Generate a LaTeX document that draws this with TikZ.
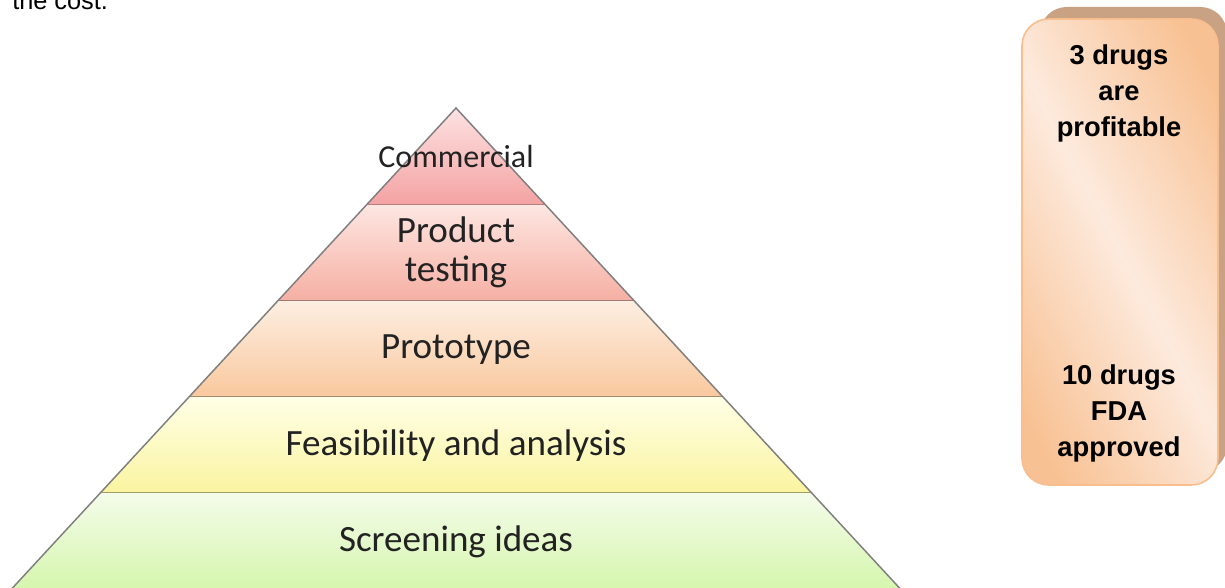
\documentclass[tikz,border=0pt]{standalone}
\usepackage{fontspec}
\setmainfont{Carlito}
\newfontfamily\arialfont{Liberation Sans}
\usepackage{tikz}
\usetikzlibrary{positioning,calc}
\usepackage{xcolor}
\definecolor{edgegray}{HTML}{7F7F7F}
\definecolor{tiertext}{HTML}{222222}
\definecolor{comTop}{HTML}{FDE2E2}
\definecolor{comBot}{HTML}{F4A2A2}
\definecolor{comLine}{HTML}{B07070}
\definecolor{prdTop}{HTML}{FDE6E1}
\definecolor{prdBot}{HTML}{F6AFA3}
\definecolor{prdLine}{HTML}{A07A70}
\definecolor{proTop}{HTML}{FDEEE1}
\definecolor{proBot}{HTML}{F9C89E}
\definecolor{proLine}{HTML}{A08A70}
\definecolor{feaTop}{HTML}{FFFFE6}
\definecolor{feaBot}{HTML}{FAF4A0}
\definecolor{feaLine}{HTML}{A09E68}
\definecolor{scrTop}{HTML}{F4FCEA}
\definecolor{scrBot}{HTML}{D2F5A6}
\definecolor{scrLine}{HTML}{8FA070}
\definecolor{boxLite}{HTML}{FDEADD}
\definecolor{boxOrng}{HTML}{F8C193}
\definecolor{boxEdge}{HTML}{F9BE8E}
\definecolor{boxShadow}{HTML}{C9A183}
\pgfdeclarehorizontalshading{drugshade}{100bp}{color(0bp)=(boxOrng); color(22bp)=(boxOrng);
  color(50bp)=(boxLite); color(78bp)=(boxOrng); color(100bp)=(boxOrng)}

\begin{document}
\begin{tikzpicture}[
  x=0.75pt, y=-0.75pt,
  tier/.style={font=\fontsize{27.8}{29}\selectfont, text=tiertext, align=center, inner sep=0pt},
  drugtxt/.style={font=\arialfont\bfseries\fontsize{20.5}{27}\selectfont, align=center, inner sep=0pt},
  drugbox/.style={rounded corners=20pt, draw=boxEdge, line width=1.2pt, shading=drugshade, shading angle=28},
]
  \useasboundingbox (0,0) rectangle (1225,588);

  % pyramid bands, apex at (456,108)
  \foreach \ytop/\ybot/\ctop/\cbot/\cline in {108/205/comTop/comBot/comLine,
      205/301/prdTop/prdBot/prdLine, 301/397/proTop/proBot/proLine,
      397/493/feaTop/feaBot/feaLine, 493/600/scrTop/scrBot/scrLine}{
    \pgfmathsetmacro{\xtl}{456-0.924*(\ytop-108)}
    \pgfmathsetmacro{\xtr}{456+0.924*(\ytop-108)}
    \pgfmathsetmacro{\xbl}{456-0.924*(\ybot-108)}
    \pgfmathsetmacro{\xbr}{456+0.924*(\ybot-108)}
    \shade[top color=\ctop, bottom color=\cbot]
      (\xtl,\ytop) -- (\xtr,\ytop) -- (\xbr,\ybot) -- (\xbl,\ybot) -- cycle;
    \draw[\cline, line width=1pt] (\xbl,\ybot) -- (\xbr,\ybot);
  }
  \coordinate (apex) at (456,108);
  \coordinate (baseL) at (1.4,600);
  \coordinate (baseR) at (910.6,600);
  \draw[edgegray, line width=1.1pt] (baseL) -- (apex) -- (baseR);

  % tier labels
  \node[tier, font=\fontsize{24}{27}\selectfont] (commercial) at (456,157) {Commercial};
  \node[tier] (testing) at (456,252) {Product\\testing};
  \node[tier] (prototype) at (456,350) {Prototype};
  \node[tier] (feasibility) at (456,446) {Feasibility and analysis};
  \node[tier] (screening) at (456,542) {Screening ideas};

  % side box with counts
  \fill[boxShadow, rounded corners=20pt] (1040,7) rectangle (1227,472);
  \path[drugbox] (1022,19) rectangle (1218,485);
  \node[drugtxt] (profit) at (1119,93) {3 drugs\\are\\profitable};
  \node[drugtxt] (fda) at (1119,413) {10 drugs\\FDA\\approved};

  \node[font=\arialfont\fontsize{19}{22}\selectfont, anchor=base west, inner sep=0pt] (cost) at (12,10) {the cost.};
\end{tikzpicture}
\end{document}
